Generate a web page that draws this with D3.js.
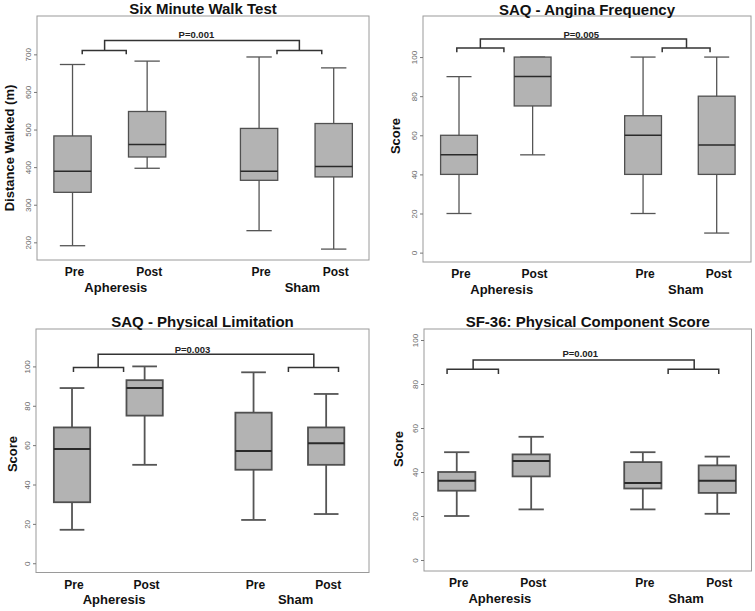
<!DOCTYPE html>
<html>
<head>
<meta charset="utf-8">
<script src="https://cdn.jsdelivr.net/npm/d3@7"></script>
<style>
  body { margin: 0; background: #fff; }
  svg { display: block; font-family: "Liberation Sans", Arial, sans-serif; }
</style>
</head>
<body>
<div id="chart"></div>
<script>
// 資料：每個箱形 [下鬚, Q1, 中位數, Q3, 上鬚]
const conditions = ["Pre", "Post", "Pre", "Post"];
const groups = ["Apheresis", "Sham"];
const titles = ["Six Minute Walk Test", "SAQ - Angina Frequency", "SAQ - Physical Limitation", "SF-36: Physical Component Score"];
const yTitles = ["Distance Walked (m)", "Score", "Score", "Score"];
const pValues = ["P=0.001", "P=0.005", "P=0.003", "P=0.001"];

const walkStats = [[191, 333, 389, 483, 673], [397, 427, 460, 548, 682], [231, 365, 389, 503, 693], [182, 374, 402, 516, 664]];
const anginaStats = [[20, 40, 50, 60, 90], [50, 75, 90, 100, 100], [20, 40, 60, 70, 100], [10, 40, 55, 80, 100]];
const limitStats = [[17, 31, 58, 69, 89], [50, 75, 89, 93, 100], [22, 47.5, 57, 76.5, 97], [25, 50, 61, 69, 86]];
const sf36Stats = [[20, 31.5, 36, 40, 49], [23, 38, 45, 48, 56], [23, 32.5, 35, 44.5, 49], [21, 30.5, 36, 43, 47]];

const walkTicks = [200, 300, 400, 500, 600, 700];
const scoreTicks = [0, 20, 40, 60, 80, 100];

// 版面設定
const panels = [
    { stats: walkStats, ticks: walkTicks, frame: [37, 16, 369, 260], xDom: [0.524, 4.973], yDom: [153, 802],
      titleY: 13.5, yTitleX: 13.5, yTitleY: 148, lw: 1.3,
      br: { left: [1.13, 1.72], right: [3.74, 4.34], big: [1.43, 4.04], bigY: 737, smallY: 710, tipY: 700, textY: 743 } },
    { stats: anginaStats, ticks: scoreTicks, frame: [423, 16, 751, 262], xDom: [0.511, 4.966], yDom: [-4.8, 121],
      titleY: 14.5, yTitleX: 400, yTitleY: 136, lw: 1.3,
      br: { left: [0.97, 1.61], right: [3.76, 4.41], big: [1.29, 4.09], bigY: 109.2, smallY: 104.6, tipY: 102.5, textY: 110 } },
    { stats: limitStats, ticks: scoreTicks, frame: [36, 329, 369, 572.5], xDom: [0.504, 5.09], yDom: [-4.7, 119],
      titleY: 326.5, yTitleX: 16.7, yTitleY: 454, lw: 1.8,
      br: { left: [1.02, 1.71], right: [3.98, 4.67], big: [1.36, 4.33], bigY: 106.2, smallY: 99.5, tipY: 97.1, textY: 106.7 } },
    { stats: sf36Stats, ticks: scoreTicks, frame: [424, 329, 751.5, 571], xDom: [0.56, 4.96], yDom: [-5, 105],
      titleY: 327, yTitleX: 403, yTitleY: 449, lw: 1.8,
      br: { left: [0.87, 1.56], right: [3.84, 4.52], big: [1.22, 4.19], bigY: 90.9, smallY: 86.7, tipY: 84.5, textY: 92.4 } }
];

const svg = d3.select("#chart").append("svg")
    .attr("width", 755)
    .attr("height", 611);

// 箱子位置：組內相距 1，組間相距 1.5
const boxPos = i => 1 + Math.floor(i / 2) * 2.5 + (i % 2);

panels.forEach((p, k) => drawPanel(p, k));

function drawPanel(p, k) {
    const [x0, y0, x1, y1] = p.frame;
    const x = d3.scaleLinear().domain(p.xDom).range([x0, x1]);
    const y = d3.scaleLinear().domain(p.yDom).range([y1, y0]);
    const g = svg.append("g");
    const boxW = 0.5, capW = 0.34;

    // 外框
    g.append("rect")
        .attr("x", x0).attr("y", y0)
        .attr("width", x1 - x0).attr("height", y1 - y0)
        .attr("fill", "none").attr("stroke", "#9a9a9a").attr("stroke-width", 1);

    // y 軸
    const axis = g.append("g")
        .attr("transform", `translate(${x0},0)`)
        .call(d3.axisLeft(y).tickValues(p.ticks).tickSize(3).tickFormat(d3.format("d")));
    axis.select(".domain").remove();
    axis.selectAll(".tick line").attr("stroke", "#777");
    axis.selectAll(".tick text")
        .attr("x", null).attr("dy", null)
        .attr("transform", "translate(-6,0) rotate(-90)")
        .attr("text-anchor", "middle")
        .attr("fill", "#666")
        .style("font-size", "8px")
        .style("font-family", "'Liberation Sans', Arial, sans-serif");

    // 箱形圖
    const boxes = g.selectAll("g.box")
        .data(p.stats)
        .join("g")
        .attr("class", "box");

    boxes.append("line")
        .attr("x1", (d, i) => x(boxPos(i))).attr("x2", (d, i) => x(boxPos(i)))
        .attr("y1", d => y(d[0])).attr("y2", d => y(d[4]))
        .attr("stroke", "#555").attr("stroke-width", p.lw);

    [0, 4].forEach(j => {
        boxes.append("line")
            .attr("x1", (d, i) => x(boxPos(i) - capW / 2)).attr("x2", (d, i) => x(boxPos(i) + capW / 2))
            .attr("y1", d => y(d[j])).attr("y2", d => y(d[j]))
            .attr("stroke", "#555").attr("stroke-width", p.lw);
    });

    boxes.append("rect")
        .attr("x", (d, i) => x(boxPos(i) - boxW / 2))
        .attr("width", (d, i) => x(boxPos(i) + boxW / 2) - x(boxPos(i) - boxW / 2))
        .attr("y", d => y(d[3]))
        .attr("height", d => y(d[1]) - y(d[3]))
        .attr("fill", "#b3b3b3").attr("stroke", "#505050").attr("stroke-width", p.lw);

    boxes.append("line")
        .attr("x1", (d, i) => x(boxPos(i) - boxW / 2)).attr("x2", (d, i) => x(boxPos(i) + boxW / 2))
        .attr("y1", d => y(d[2])).attr("y2", d => y(d[2]))
        .attr("stroke", "#2a2a2a").attr("stroke-width", p.lw + 0.2);

    // 顯著性括號
    const b = p.br;
    const small = r => `M${x(r[0])},${y(b.tipY)}V${y(b.smallY)}H${x(r[1])}V${y(b.tipY)}`;
    g.append("path")
        .attr("d", small(b.left) + small(b.right) +
            `M${x(b.big[0])},${y(b.smallY)}V${y(b.bigY)}H${x(b.big[1])}V${y(b.smallY)}`)
        .attr("fill", "none").attr("stroke", "#333").attr("stroke-width", 1.5);

    g.append("text")
        .attr("x", x(2.66)).attr("y", y(b.textY))
        .attr("text-anchor", "middle")
        .style("font-size", "9.5px").style("font-weight", "bold")
        .attr("fill", "#222")
        .text(pValues[k]);

    // 標題
    g.append("text")
        .attr("x", (x0 + x1) / 2).attr("y", p.titleY)
        .attr("text-anchor", "middle")
        .style("font-size", "15px").style("font-weight", "bold")
        .attr("fill", "#111")
        .text(titles[k]);

    // y 軸標題
    g.append("text")
        .attr("transform", `translate(${p.yTitleX},${p.yTitleY}) rotate(-90)`)
        .attr("text-anchor", "middle")
        .style("font-size", "13px").style("font-weight", "bold")
        .attr("fill", "#111")
        .text(yTitles[k]);

    // x 軸標籤
    conditions.forEach((c, i) => {
        g.append("text")
            .attr("x", x(boxPos(i)) + 2).attr("y", y1 + 16)
            .attr("text-anchor", "middle")
            .style("font-size", "12px").style("font-weight", "bold")
            .attr("fill", "#111")
            .text(c);
    });
    groups.forEach((gr, i) => {
        g.append("text")
            .attr("x", x((boxPos(2 * i) + boxPos(2 * i + 1)) / 2 + 0.08)).attr("y", y1 + 31.5)
            .attr("text-anchor", "middle")
            .style("font-size", "13px").style("font-weight", "bold")
            .attr("fill", "#111")
            .text(gr);
    });
}
</script>
</body>
</html>
